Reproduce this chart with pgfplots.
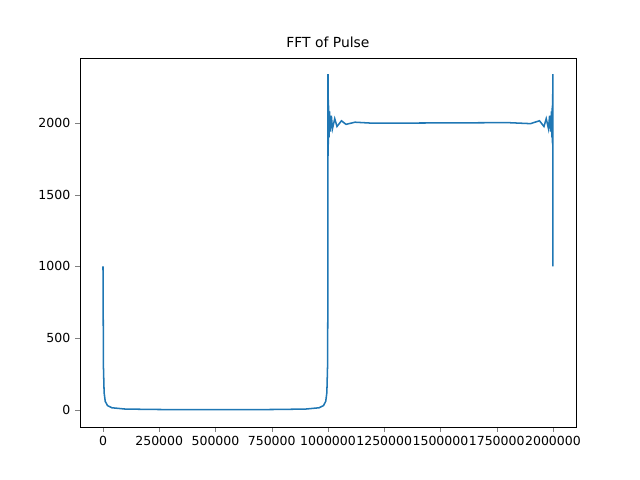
\documentclass[border=0pt]{standalone}
\usepackage{pgfplots}
\pgfplotsset{compat=1.18}
\usepackage{fontspec}
\setmainfont{DejaVu Sans}
\begin{document}
\begin{tikzpicture}
\path (-57.6pt,-38.2pt) rectangle (403.2pt,307.4pt);
\begin{axis}[at={(0,0)},anchor=south west,scale only axis,width=357.1pt,height=265.7pt,
 xmin=-102222,xmax=2102222,ymin=-118.5,ymax=2453,
 title={FFT of Pulse},title style={yshift=-2pt},
 xtick={0,250000,500000,750000,1000000,1250000,1500000,1750000,2000000},
 ytick={0,500,1000,1500,2000},
 scaled x ticks=false,scaled y ticks=false,
 /pgf/number format/fixed,/pgf/number format/1000 sep={},
 /pgf/number format/assume math mode=true,
 tick label style={font=\small},
 tick align=outside,xtick pos=bottom,ytick pos=left,
 major tick length=3.5pt]
\addplot[color={rgb,255:red,31;green,119;blue,180},line width=1.1pt,no marks] coordinates {
(0,1000)(2000,300)(5000,120)(10000,60)(20000,30)(40000,15)(100000,6)(250000,3)(500000,2)(750000,3)(900000,6)(960000,15)(980000,30)(990000,60)(995000,120)(998000,300)(999000,600)(999500,1000)
(1000000,2340)(1000500,1770)(1001000,2200)(1002000,1850)(1003000,2120)(1005000,1900)(1007000,2080)(1010000,1940)(1015000,2050)(1020000,1960)(1030000,2030)(1040000,1975)(1060000,2015)(1080000,1990)(1120000,2005)(1200000,1998)(1500000,2000)
(1800000,2002)(1900000,1995)(1940000,2015)(1960000,1975)(1970000,2030)(1980000,1960)(1985000,2050)(1990000,1940)(1993000,2080)(1995000,1900)(1997000,2120)(1998000,1850)(1999000,2200)(1999500,1770)(2000000,2340)(2000000,1000)
};
\end{axis}
\end{tikzpicture}
\end{document}
